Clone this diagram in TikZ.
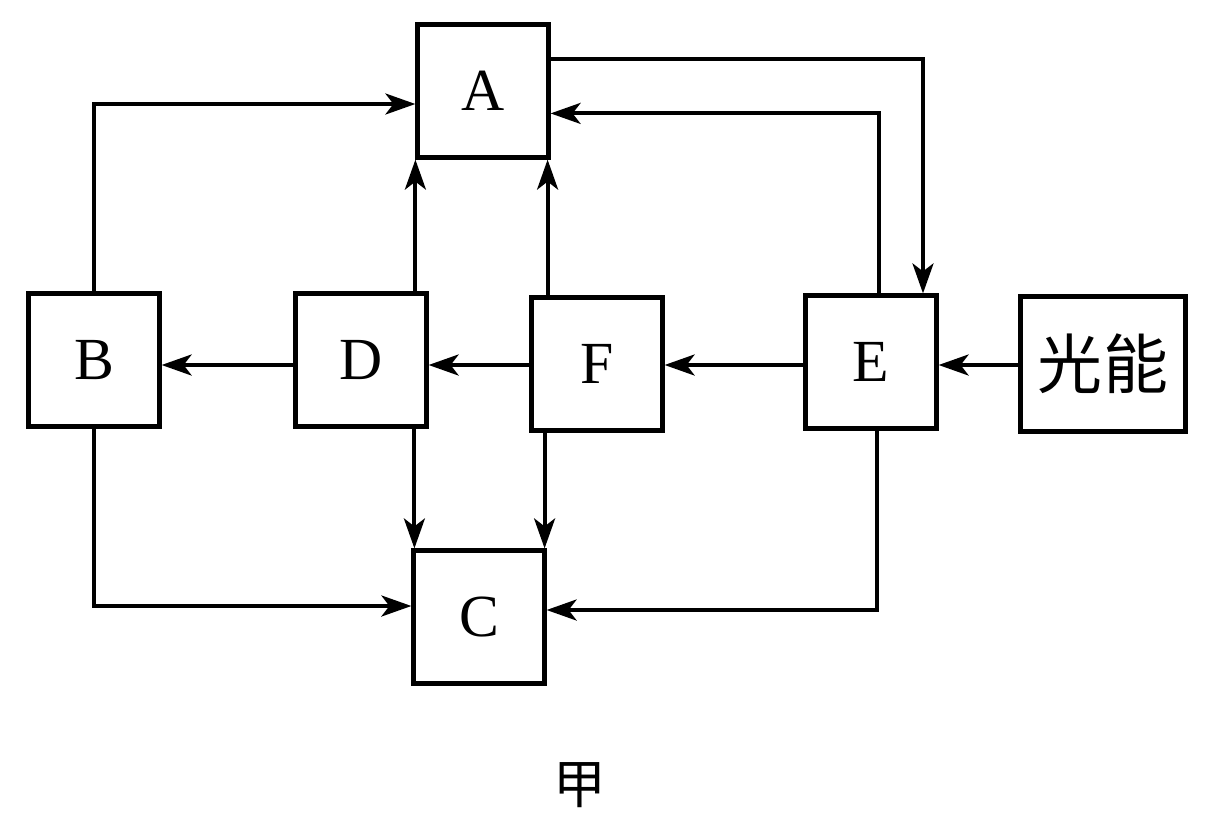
\documentclass[tikz,border=0pt]{standalone}
\usepackage{fontspec}
\setmainfont{Liberation Serif}
\newfontfamily\cjk{Noto Sans CJK SC}
\usetikzlibrary{arrows.meta,calc}
\begin{document}
\begin{tikzpicture}[x=0.02cm,y=-0.02cm,
  box/.style={draw,line width=2.4pt,minimum width=2.62cm,minimum height=2.66cm,inner sep=0pt,font=\fontsize{34}{38}\selectfont},
  arr/.style={line width=2.2pt,-{Stealth[length=0.6cm,width=0.42cm,inset=0.16cm]}}]
\useasboundingbox (0,0) rectangle (1205,833);
\node[box] (A) at (483,91) {A};
\node[box] (B) at (94,360) {B};
\node[box] (D) at (361,360) {D};
\node[box] (F) at (597,364) {F};
\node[box] (E) at (871,362) {E};
\node[box,minimum width=3.3cm,minimum height=2.7cm,font=\cjk\fontsize{37}{40}\selectfont] (L) at (1103,364) {光能};
\node[box] (C) at (479,617) {C};
\node[font=\cjk\fontsize{30}{36}\selectfont] (jia) at (580,785) {甲};
\coordinate (row) at (0,365);
\coordinate (aL) at (A.south west);
\coordinate (aR) at ($(A.south east)+(-3,0)$);
\coordinate (cL) at ($(C.north west)+(3,0)$);
\coordinate (cR) at ($(C.north east)+(-2,0)$);
\coordinate (ab) at ($(A.west)+(0,13)$);
\coordinate (cb) at ($(C.west)+(0,-11)$);
\coordinate (ae) at ($(A.north east)+(0,37)$);
\coordinate (ea) at ($(E.north)+(52,0)$);
\coordinate (eo) at ($(E.north)+(8,0)$);
\coordinate (ai) at ($(A.north east)+(0,91)$);
\coordinate (es) at ($(E.south)+(6,0)$);
\coordinate (ce) at ($(C.east)+(0,-7)$);
% horizontal chain
\draw[arr] (L.west |- row) -- (E.east |- row);
\draw[arr] (E.west |- row) -- (F.east |- row);
\draw[arr] (F.west |- row) -- (D.east |- row);
\draw[arr] (D.west |- row) -- (B.east |- row);
% up to A
\draw[arr] (aL |- D.north) -- (aL);
\draw[arr] (aR |- F.north) -- (aR);
% down to C
\draw[arr] (cL |- D.south) -- (cL);
\draw[arr] (cR |- F.south) -- (cR);
% B to A and C
\draw[arr] (B.north) |- (ab);
\draw[arr] (B.south) |- (cb);
% A <-> E
\draw[arr] (ae) -| (ea);
\draw[arr] (eo) |- (ai);
% E to C
\draw[arr] (es) |- (ce);
\end{tikzpicture}
\end{document}
